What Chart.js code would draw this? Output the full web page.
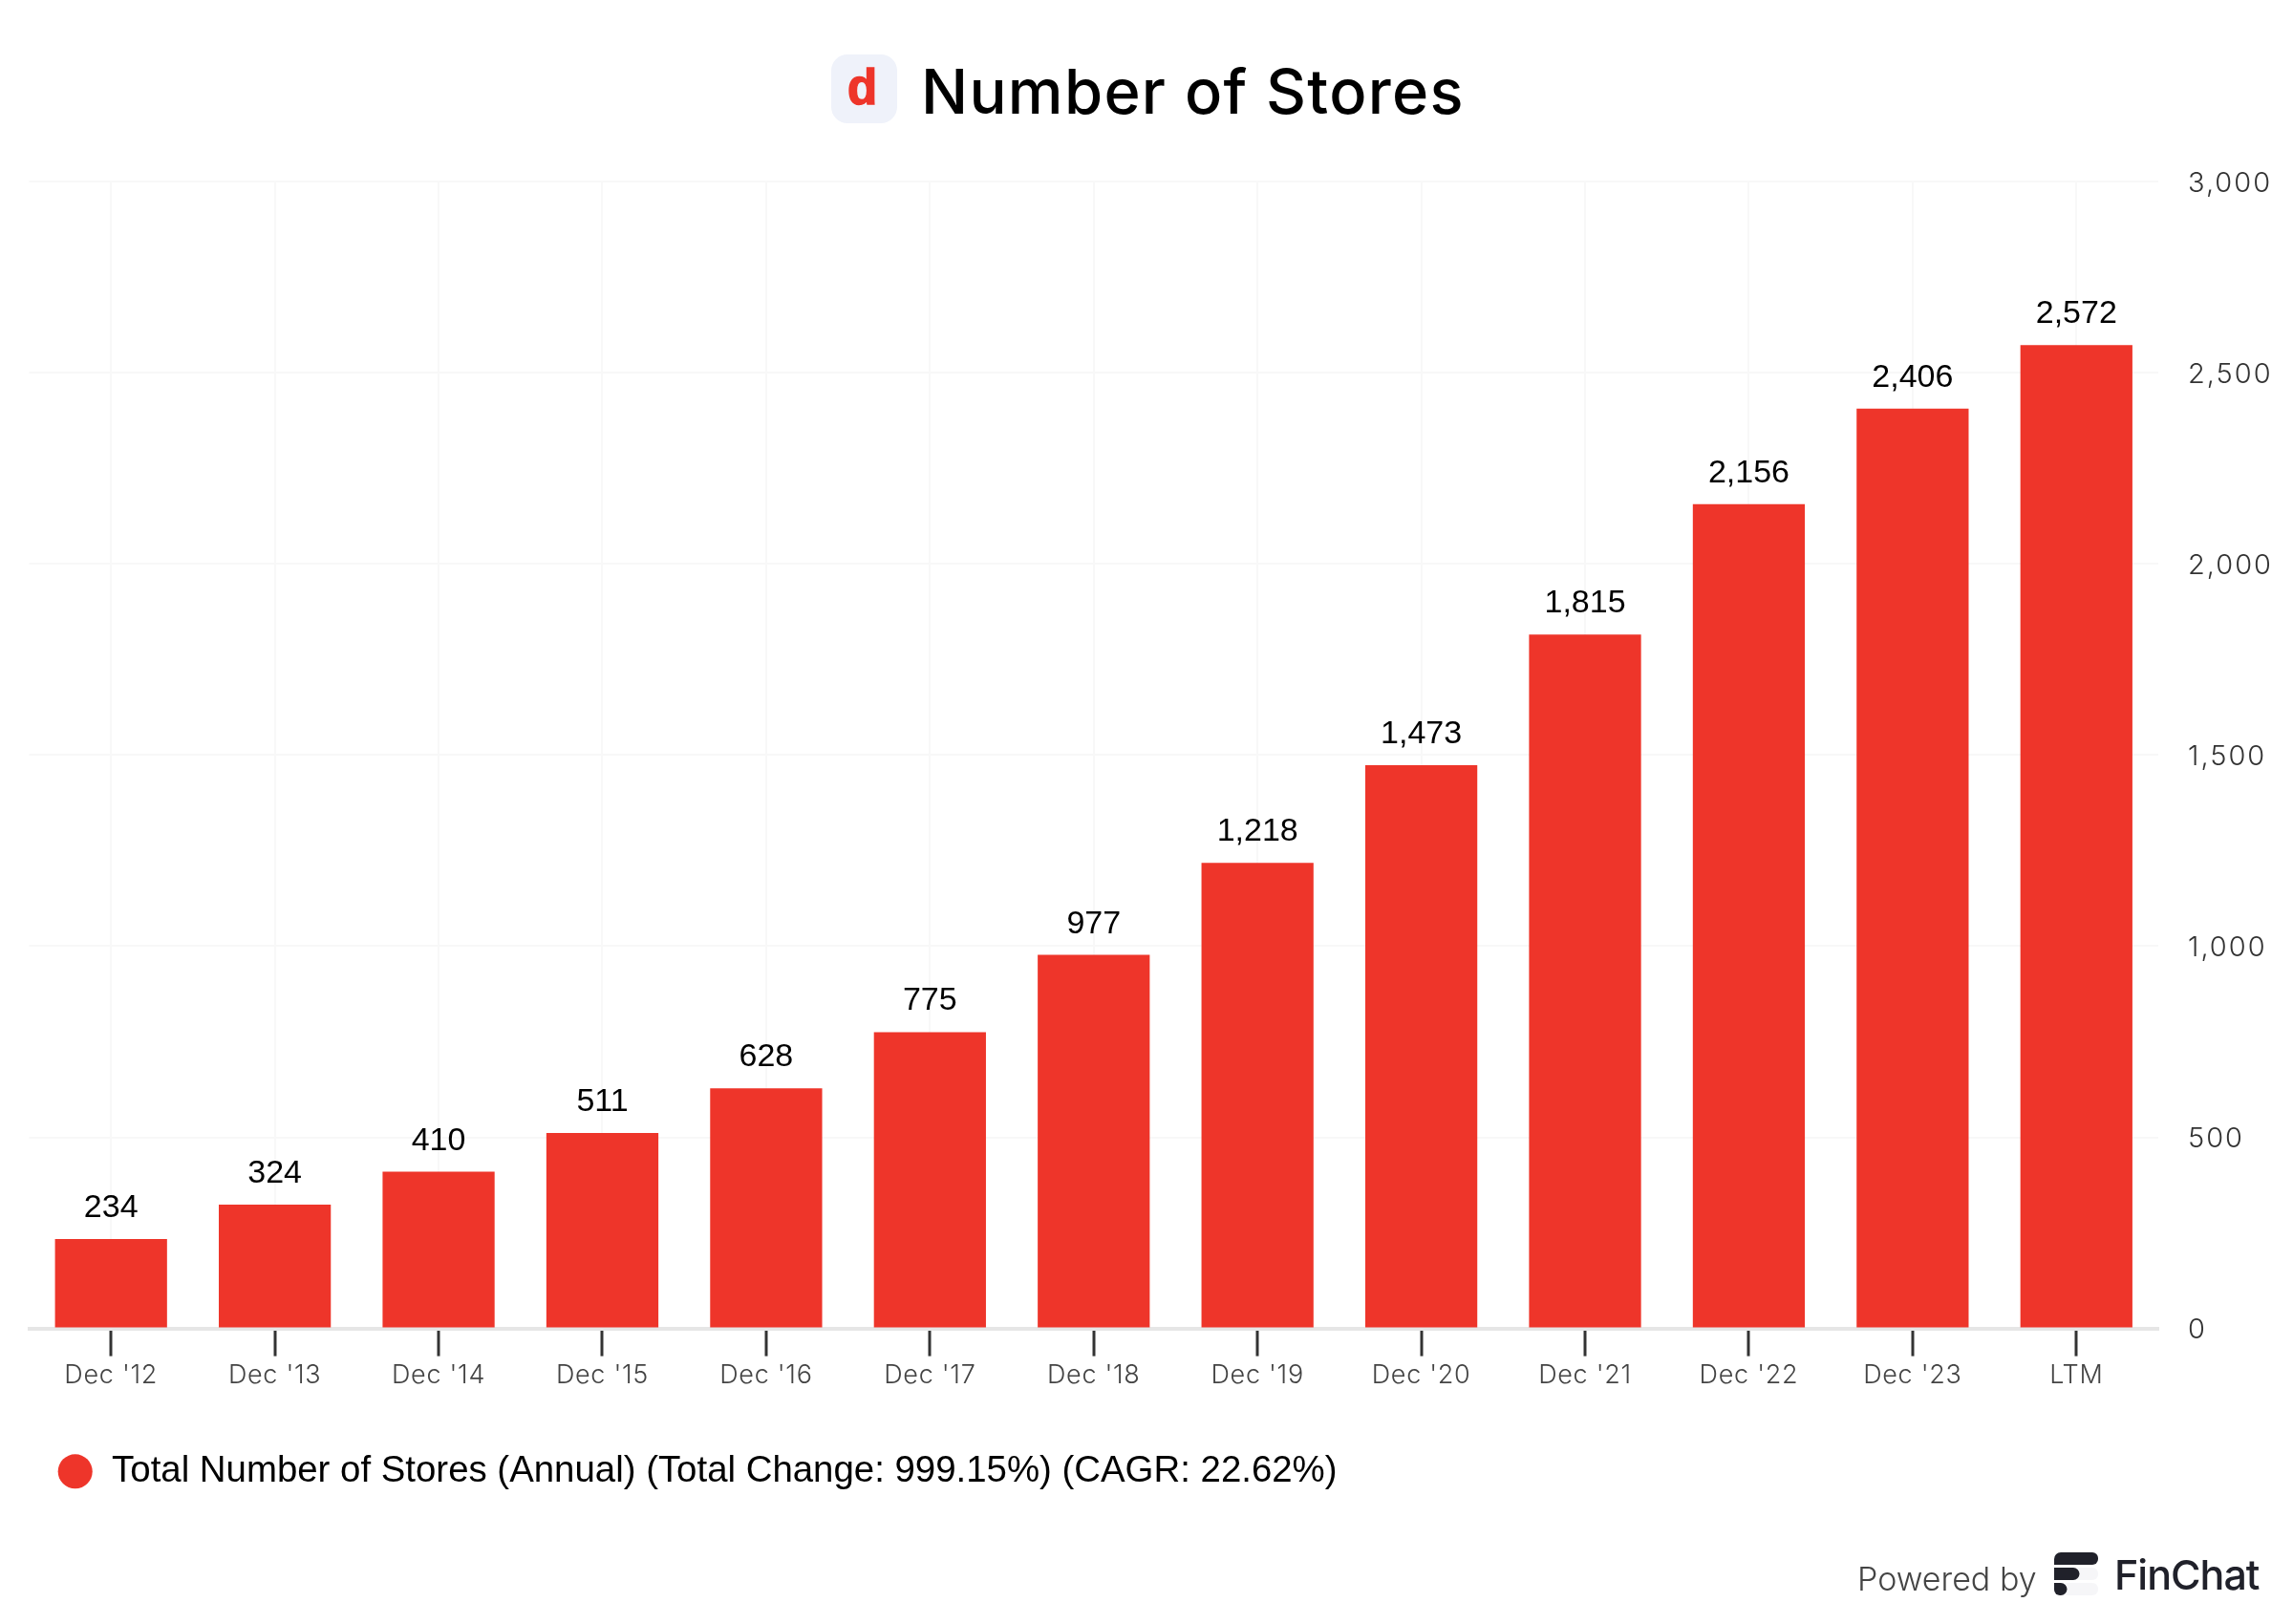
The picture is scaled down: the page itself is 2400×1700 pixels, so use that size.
<!DOCTYPE html>
<html>
<head>
<meta charset="utf-8">
<script src="https://cdn.jsdelivr.net/npm/chart.js@4"></script>
<style>
html,body{margin:0;padding:0;background:#fff;width:2400px;height:1700px;overflow:hidden}
#wrap{position:relative;width:2400px;height:1700px}
canvas{position:absolute;left:0;top:0}
.abs{position:absolute;white-space:nowrap}
#icon{left:870px;top:57px;width:69px;height:72px;border-radius:17px;background:#eff2fa}
#iconD{left:868px;top:57px;width:69px;height:72px;text-align:center;font:bold 51px/70px "Liberation Sans";color:#ee352a;-webkit-text-stroke:1.5px #ee352a}
#title{left:964px;top:56px;font:500 65px/80px Inter;color:#000;letter-spacing:1.3px}
#powered{left:1944px;top:1631px;font:300 34px/44px Inter;color:#444}
#finchat{left:2213px;top:1623px;font:500 43px/50px Inter;color:#20212a;letter-spacing:-1px}
#logo{left:2150px;top:1624px}
</style>
</head>
<body>
<div id="wrap">
<canvas id="c" width="2400" height="1700"></canvas>
<div class="abs" id="icon"></div>
<div class="abs" id="iconD">d</div>
<div class="abs" id="title">Number of Stores</div>
<div class="abs" id="powered">Powered by</div>
<svg class="abs" id="logo" width="47" height="47" viewBox="0 0 47 47">
<rect x="20" y="17" width="26" height="13" rx="6" fill="#f6f6f8"/>
<rect x="8" y="33" width="38" height="13" rx="6" fill="#f6f6f8"/>
<path d="M0 8a7 7 0 0 1 7-7h33a6 6 0 0 1 6 6v1a6 6 0 0 1-6 6H0z" fill="#20212a"/>
<path d="M0 17h20a6.500 6.500 0 0 1 0 13H0z" fill="#20212a"/>
<path d="M0 33h7a6.500 6.500 0 0 1 0 13H6a6 6 0 0 1-6-6z" fill="#20212a"/>
</svg>
<div class="abs" id="finchat">FinChat</div>
</div>
<script>
const categories = ["Dec '12","Dec '13","Dec '14","Dec '15","Dec '16","Dec '17","Dec '18","Dec '19","Dec '20","Dec '21","Dec '22","Dec '23","LTM"];
const stores = [234,324,410,511,628,775,977,1218,1473,1815,2156,2406,2572];
const yTicks = [0,500,1000,1500,2000,2500,3000];
const seriesName = "Total Number of Stores (Annual) (Total Change: 999.15%) (CAGR: 22.62%)";
const fmt = v => Number(v).toLocaleString('en-US');

const valueLabels = {
  id:'valueLabels',
  afterDatasetsDraw(chart){
    const ctx = chart.ctx, meta = chart.getDatasetMeta(0);
    ctx.save();
    ctx.font = '34px "Liberation Sans"';
    ctx.fillStyle = '#000';
    ctx.textAlign = 'center';
    ctx.textBaseline = 'alphabetic';
    meta.data.forEach((bar,i)=>ctx.fillText(fmt(stores[i]), bar.x, bar.y-23));
    ctx.restore();
  }
};

// Tick label tracking and nudge, applied around each scale's own label drawing.
const tickStyle = {
  id:'tickStyle',
  beforeDraw(chart){
    [['x','0.7px',0],['y','2px',2]].forEach(([id,spacing,dy])=>{
      const s = chart.scales[id];
      if (s._styled) return;
      s._styled = true;
      const draw = s.drawLabels.bind(s);
      s.drawLabels = area => {
        const ctx = chart.ctx;
        ctx.save();
        ctx.letterSpacing = spacing;
        ctx.translate(0,dy);
        draw(area);
        ctx.restore();
      };
    });
  }
};

new Chart(document.getElementById('c'),{
  type:'bar',
  data:{labels:categories,datasets:[{label:seriesName,data:stores,backgroundColor:'#ee352a',borderWidth:0,categoryPercentage:1,barPercentage:0.684}]},
  plugins:[valueLabels,tickStyle],
  options:{
    responsive:false,animation:false,devicePixelRatio:1,
    layout:{padding:{left:30.5,right:0,top:190,bottom:130.5}},
    plugins:{
      title:{display:false},tooltip:{enabled:false},
      legend:{display:true,position:'bottom',align:'start',
        labels:{usePointStyle:true,pointStyle:'circle',boxHeight:25.5,padding:29,color:'#000',font:{family:'"Liberation Sans"',size:38.4}}}
    },
    scales:{
      x:{
        offset:true,
        afterFit(s){s.height=101.5;},
        grid:{offset:false,color:'#f8f8f8',lineWidth:2,tickColor:'#333',tickWidth:3,tickLength:29,drawOnChartArea:true},
        border:{color:'#e6e6e6',width:4},
        ticks:{color:'#444',padding:4,maxRotation:0,autoSkip:false,font:{family:'Inter',weight:'300',size:27}}
      },
      y:{
        position:'right',min:0,max:3000,
        afterBuildTicks(s){s.ticks=yTicks.map(v=>({value:v}));},
        afterFit(s){s.width=141;},
        grid:{color:'#f8f8f8',lineWidth:2,drawTicks:false},
        border:{display:false},
        ticks:{color:'#333',padding:31,callback:v=>fmt(v),font:{family:'Inter',weight:'300',size:29}}
      }
    }
  }
});
</script>
</body>
</html>
